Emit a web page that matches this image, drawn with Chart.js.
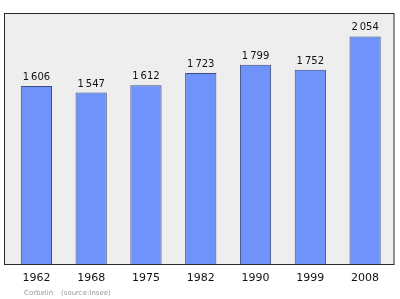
<!DOCTYPE html>
<html>
<head>
<meta charset="utf-8">
<script src="https://cdn.jsdelivr.net/npm/chart.js@4/dist/chart.umd.min.js"></script>
<style>
  html, body { margin: 0; padding: 0; background: #fff; }
  #wrap { width: 400px; height: 299px; }
</style>
</head>
<body>
<div id="wrap"><canvas id="chart" width="400" height="299"></canvas></div>
<script>
const years = ['1962', '1968', '1975', '1982', '1990', '1999', '2008']
const population = [1606, 1547, 1612, 1723, 1799, 1752, 2054]
const yMax = 2265
const footer = ['Corbelin', '(source:Insee)']

function fmt(v) {
    return String(v).replace(/\B(?=(\d{3})+(?!\d))/g, '\u2009')
}

// grey frame behind the bars
const frame = {
    id: 'frame',
    beforeDraw(chart) {
        const a = chart.chartArea
        const c = chart.ctx
        c.save()
        c.fillStyle = '#eeeeee'
        c.fillRect(4.5, 13.5, 389.5, a.bottom - 13)
        c.strokeStyle = '#2a2a2a'
        c.lineWidth = 1
        c.strokeRect(4.5, 13.5, 389.5, a.bottom - 13)
        c.restore()
    }
}

// value above each bar + source line
const labels = {
    id: 'labels',
    afterDatasetsDraw(chart) {
        const c = chart.ctx
        const meta = chart.getDatasetMeta(0)
        c.save()
        c.fillStyle = '#111'
        c.font = '10px "DejaVu Sans"'
        c.textAlign = 'center'
        c.textBaseline = 'alphabetic'
        meta.data.forEach((bar, i) => {
            c.fillText(fmt(population[i]), bar.x, bar.y - 6)
        })
        c.fillStyle = '#999'
        c.font = '7px "DejaVu Sans"'
        c.textAlign = 'left'
        c.fillText(footer[0], 24, 295)
        c.fillText(footer[1], 61, 295)
        c.restore()
    }
}

new Chart(document.getElementById('chart'), {
    type: 'bar',
    data: {
        labels: years,
        datasets: [{
            data: population,
            backgroundColor: '#6f93fb',
            borderColor: '#3a4c80',
            borderWidth: 1,
            barPercentage: 0.57,
            categoryPercentage: 1
        }]
    },
    options: {
        responsive: false,
        animation: false,
        layout: { padding: { left: 9, right: 7.5, top: 13, bottom: 0 } },
        plugins: { legend: { display: false }, tooltip: { enabled: false } },
        scales: {
            x: {
                grid: { display: false, drawTicks: false },
                border: { display: false },
                ticks: { color: '#111', font: { family: 'DejaVu Sans', size: 11 }, padding: 8 },
                afterFit(s) { s.height = 35 }
            },
            y: {
                display: false,
                min: 0,
                max: yMax
            }
        }
    },
    plugins: [frame, labels]
})
</script>
</body>
</html>
